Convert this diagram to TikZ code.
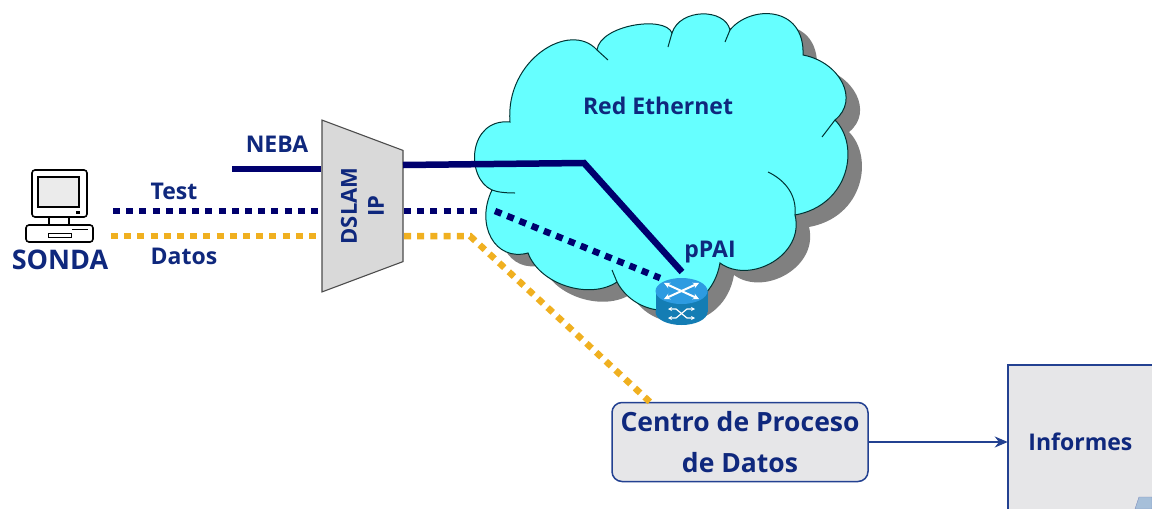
\documentclass[tikz,border=0pt]{standalone}
\usepackage{fontspec}
\setmainfont{Open Sans}
\usepackage{xcolor}
\usepackage{tikz}
\usetikzlibrary{shapes,arrows.meta,positioning,calc}

\definecolor{navyline}{RGB}{0,0,110}
\definecolor{navytext}{RGB}{15,40,125}
\definecolor{datosline}{RGB}{240,176,32}
\definecolor{cloudfill}{RGB}{102,255,255}
\definecolor{boxgray}{RGB}{230,230,232}
\definecolor{boxblue}{RGB}{35,65,145}
\definecolor{routertop}{RGB}{45,155,225}
\definecolor{routerbody}{RGB}{20,125,180}

% Outline of the cloud
\newcommand{\cloudoutline}{
  (510,122) .. controls (505,60) and (570,20) .. (597,50)
  .. controls (600,25) and (665,15) .. (672,33)
  .. controls (680,8) and (725,8) .. (730,30)
  .. controls (750,5) and (805,5) .. (803,55)
  .. controls (840,62) and (860,100) .. (835,120)
  .. controls (860,145) and (850,205) .. (795,215)
  .. controls (805,255) and (750,285) .. (720,263)
  .. controls (710,320) and (640,325) .. (617,282)
  .. controls (590,300) and (540,285) .. (528,253)
  .. controls (495,262) and (475,225) .. (492,190)
  .. controls (465,178) and (468,118) .. (510,122) -- cycle
}

\begin{document}
\begin{tikzpicture}[
    x=1pt, y=-1pt,
    lbl/.style={font=\fontsize{23}{27}\selectfont\bfseries, text=navytext, inner sep=0pt},
    cloudline/.style={draw=black!60!teal, line width=1pt},
    nebaline/.style={draw=navyline, line width=6.5pt},
    testline/.style={draw=navyline, line width=6.5pt, dash pattern=on 7pt off 6.2pt},
    datline/.style={draw=datosline, line width=6.5pt, dash pattern=on 7pt off 6.2pt},
    pcline/.style={draw=black, line width=1.6pt, rounded corners=3pt},
    arrow/.style={-{Stealth[length=13pt,width=11pt]}, draw=boxblue, line width=2pt},
    rarrow/.style={{Stealth[length=6pt,width=6pt]}-{Stealth[length=6pt,width=6pt]}, draw=white, line width=2pt},
    swarrow/.style={{Stealth[length=4pt,width=4pt]}-{Stealth[length=4pt,width=4pt]}, draw=white, line width=1.2pt},
]
\useasboundingbox (0,0) rectangle (1152,509);
\fill[white] (0,0) rectangle (1152,509);

% Cloud with its shadow
\fill[black!50, shift={(14,12)}] \cloudoutline;
\path[fill=cloudfill, cloudline] \cloudoutline;
\draw[cloudline] (597,50) -- (608,60);
\draw[cloudline] (672,33) -- (668,47);
\draw[cloudline] (730,30) -- (725,42);
\draw[cloudline] (835,120) -- (822,137);
\draw[cloudline] (768,172) .. controls (785,180) and (797,195) .. (795,215);
\draw[cloudline] (617,282) -- (612,270);
\draw[cloudline] (492,190) .. controls (497,192) and (505,193) .. (515,193);
\node[lbl] (ethernet) at (658,106) {Red Ethernet};

% Free ends and bends of the lines
\coordinate (nebaend) at (232,169);
\coordinate (testend) at (113,211);
\coordinate (datosend) at (111,236);
\coordinate (nebaout) at (403,165);
\coordinate (ethbend) at (584,163);
\coordinate (paiend) at (682,272);
\coordinate (testout) at (478,211);
\coordinate (testin) at (495,211);
\coordinate (testpai) at (660,278);
\coordinate (datosbend) at (470,236);
\coordinate (datosout) at (404,236);
\coordinate (testfrom) at (404,211);

% DSLAM
\node[trapezium, trapezium stretches=true, trapezium left angle=64, trapezium right angle=64, shape border rotate=180, rotate=90, draw=black!70, fill=black!15, line width=1.1pt, minimum width=172pt, minimum height=81pt, inner sep=0pt, align=center, text=navytext, font=\fontsize{22}{27}\selectfont\bfseries] (dslam) at (362.5,206) {DSLAM\\IP};

% Box for the data centre and report sheet
\node[rectangle, rounded corners=10pt, draw=boxblue, fill=boxgray, line width=1.5pt, minimum width=256pt, minimum height=79pt, inner sep=0pt, align=center, text=navytext, font=\fontsize{26.5}{41}\selectfont\bfseries] (centro) at (740,442) {Centro de Proceso\\de Datos};
\node[rectangle, fill=boxgray, minimum width=145pt, minimum height=154pt, inner sep=0pt, right=139pt of centro.east, anchor=west, lbl] (informes) {Informes};
\draw[draw=boxblue, line width=1.5pt] (informes.south west) -- (informes.north west) -- (informes.north east);
\fill[fill=blue!50!cyan!40!gray!50, draw=boxblue!60] (1135,509) -- (1139,497) -- (1152,497) -- (1152,509) -- cycle;

% Lines in and out of the DSLAM
\draw[nebaline] (nebaend) -- (nebaend -| dslam.north);
\draw[testline] (testend) -- (testend -| dslam.north);
\draw[datline] (datosend) -- (datosend -| dslam.north);
\draw[nebaline, line join=miter] (nebaout) -- (ethbend) -- (paiend);
\draw[testline] (testfrom) -- (testout);
\draw[testline] (testin) -- (testpai);
\draw[datline] (datosout) -- (datosbend) -- (650,402);
\draw[arrow] (centro) -- (informes);

% Labels
\node[lbl] (neba) at (277,144) {NEBA};
\node[lbl] (test) at (174,191) {Test};
\node[lbl] (datos) at (184,256) {Datos};
\node[lbl, font=\fontsize{27}{30}\selectfont\bfseries] (sonda) at (60,260) {SONDA};
\node[lbl] (ppailabel) at (710,252) {pPAI};

% Computer
\draw[pcline, fill=white] (32,170) rectangle (87,217);
\draw[draw=black, line width=1.2pt, fill=black!8] (38,177) rectangle (79,207);
\fill[black] (76,211) rectangle (80,214);
\draw[pcline, fill=white, rounded corners=1pt] (49,217) rectangle (69,225);
\draw[pcline, fill=white] (26,225) rectangle (93,242);
\draw[draw=black, line width=1pt] (48,233) rectangle (71,237);
\draw[draw=black, line width=1pt] (72,229.5) -- (88,229.5);

% Router
\node[inner sep=0pt, minimum width=52pt, minimum height=47pt] (router) at (681.5,301.5) {};
\fill[routerbody] (681.5,312) ellipse (26 and 13);
\fill[routerbody] (655.5,291) rectangle (707.5,312);
\fill[routertop] (681.5,291) ellipse (26 and 13);
\draw[rarrow] (664,283) -- (699,299);
\draw[rarrow] (699,283) -- (664,299);
\draw[swarrow] (668,309) -- (676,309) -- (687,318) -- (695,318);
\draw[swarrow] (668,318) -- (676,318) -- (687,309) -- (695,309);

\end{tikzpicture}
\end{document}
